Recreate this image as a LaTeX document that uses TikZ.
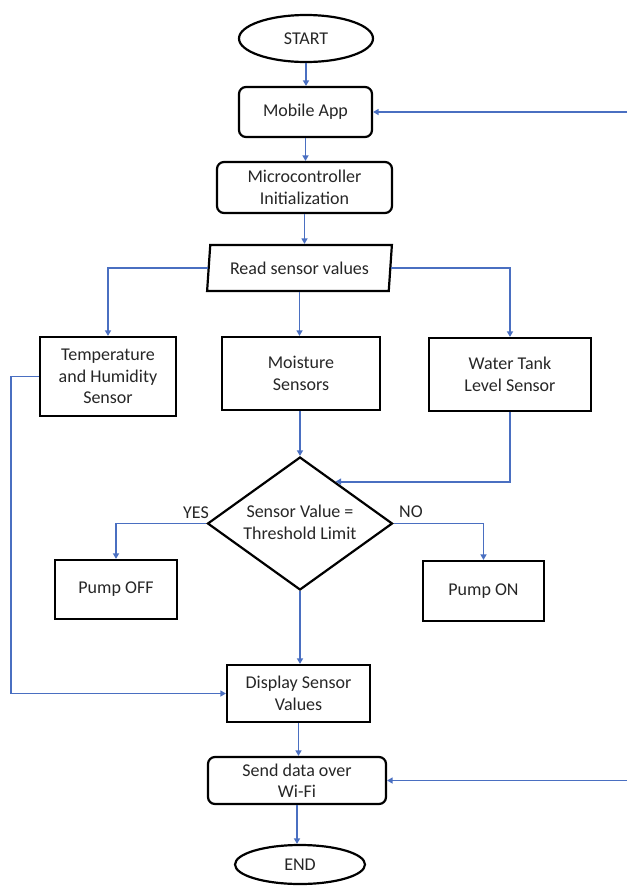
\documentclass[tikz,border=0pt]{standalone}
\usepackage{fontspec}
\setmainfont{Carlito}
\usetikzlibrary{shapes.geometric,arrows.meta,calc}
\definecolor{conn}{HTML}{4A6FC1}
\definecolor{txt}{HTML}{262626}
\tikzset{
  box/.style={draw=black, line width=2.2pt, rectangle, inner sep=0pt, align=center,
    text=txt, font=\fontsize{18}{21.5}\selectfont},
  rbox/.style={box, rounded corners=7pt},
  term/.style={box, ellipse},
  arrowline/.style={draw=conn, line width=1.9pt, -{Triangle[length=5.5pt,width=6pt]}},
  lbl/.style={text=txt, inner sep=0pt, align=center, font=\fontsize{18}{21.5}\selectfont}
}
\begin{document}
\begin{tikzpicture}[x=1pt,y=-1pt]
\useasboundingbox (0,0) rectangle (627,889);

\node[term, minimum width=134pt, minimum height=47pt] (start) at (306,38.5) {START};
\node[rbox, minimum width=133pt, minimum height=50pt] (app) at (305.5,112) {Mobile App};
\node[rbox, minimum width=175pt, minimum height=51pt] (mcu) at (304.5,187.5) {Microcontroller\\Initialization};
\node[box, trapezium, trapezium left angle=79, trapezium right angle=101, trapezium stretches=true,
      minimum width=185pt, minimum height=46pt] (read) at (299.5,268) {Read sensor values};
\node[box, minimum width=136pt, minimum height=79pt] (temp) at (108,376.5) {Temperature\\and Humidity\\Sensor};
\node[box, minimum width=158pt, minimum height=73pt] (moist) at (301,373.5) {Moisture\\Sensors};
\node[box, minimum width=162pt, minimum height=73pt] (water) at (510,374.5) {Water Tank\\Level Sensor};
\node[box, diamond, minimum width=185pt, minimum height=133pt] (dec) at (300,523.5) {};
\node[lbl] (dect) at (300,522.5) {Sensor Value =\\Threshold Limit};
\node[box, minimum width=122pt, minimum height=59pt] (off) at (116,589.5) {Pump OFF};
\node[box, minimum width=121pt, minimum height=60pt] (on) at (483.5,591) {Pump ON};
\node[box, minimum width=143pt, minimum height=57pt] (disp) at (298.5,693.5) {Display Sensor\\Values};
\node[rbox, minimum width=178pt, minimum height=47pt] (send) at (297,780.5) {Send data over\\Wi-Fi};
\node[term, minimum width=130pt, minimum height=39pt] (end) at (300,864.5) {END};

\node[lbl] (yes) at (196,513) {YES};
\node[lbl] (no) at (411,512) {NO};

\coordinate (rin1) at (627,112);
\coordinate (rin2) at (627,780.5);

\draw[arrowline] (start.south) -- (start.south |- app.north);
\draw[arrowline] (rin1) -- (app.east);
\draw[arrowline] (app.south) -- (app.south |- mcu.north);
\draw[arrowline] (mcu.south) -- (mcu.south |- read.north);
\draw[arrowline] (read.west) -| (temp.north);
\draw[arrowline] (read.east) -| (water.north);
\draw[arrowline] (read.south) -- (read.south |- moist.north);
\draw[arrowline] (temp.west) -- ++(-28,0) |- (disp.west);
\draw[arrowline] (dec.north |- moist.south) -- (dec.north);
\draw[arrowline] (water.south) |- ($(dec.north)!0.38!(dec.east)$);
\draw[arrowline] (dec.west) -| (off.north);
\draw[arrowline] (dec.east) -| (on.north);
\draw[arrowline] (dec.south) -- (dec.south |- disp.north);
\draw[arrowline] (disp.south) -- (disp.south |- send.north);
\draw[arrowline] (rin2) -- (send.east);
\draw[arrowline] (send.south) -- (send.south |- end.north);
\end{tikzpicture}
\end{document}
